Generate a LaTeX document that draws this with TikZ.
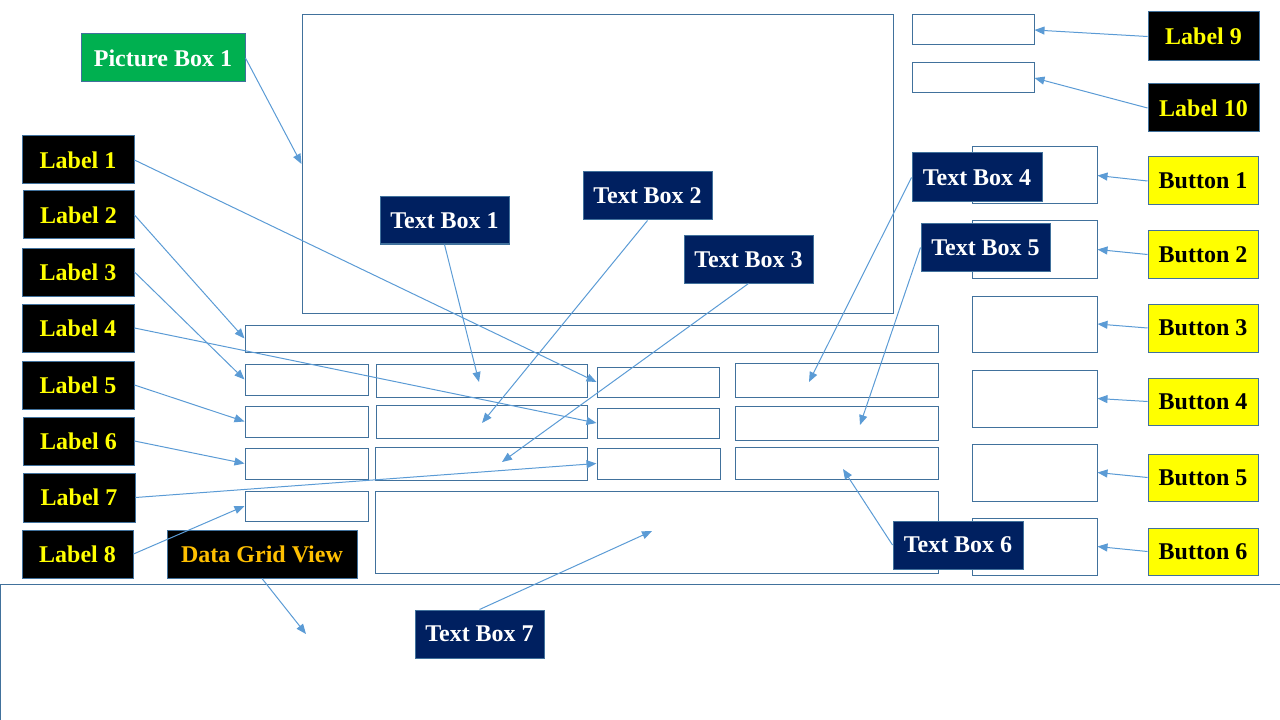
\documentclass[tikz,border=0pt]{standalone}
\usepackage{fontspec}
\setmainfont{Liberation Serif}
\usepackage{xcolor}
\usepackage{tikz}
\usetikzlibrary{arrows.meta, positioning}
\definecolor{frameblue}{HTML}{41719C}
\definecolor{arrowblue}{HTML}{5B9BD5}
\definecolor{tbnavy}{HTML}{002060}
\definecolor{picgreen}{HTML}{00B050}
\definecolor{lblyellow}{HTML}{FFFF00}
\definecolor{gridorange}{HTML}{FFC000}

\begin{document}
\begin{tikzpicture}[
    x=0.75pt, y=-0.75pt,
    every node/.style={font=\bfseries\fontsize{18}{20}\selectfont},
    wh/.style 2 args={
        minimum width=#1*0.75pt,
        minimum height=#2*0.75pt
    },
    uibox/.style={
        rectangle,
        draw=frameblue,
        line width=0.75pt,
        inner sep=0pt
    },
    tag/.style={
        rectangle,
        draw=frameblue,
        line width=0.75pt,
        inner sep=0pt,
        text centered,
        wh={111}{48}
    },
    lbl/.style={tag, fill=black, text=lblyellow},
    btn/.style={tag, fill=lblyellow, text=black, wh={110}{48}},
    tbox/.style={tag, fill=tbnavy, text=white, wh={129}{47}},
    pointer/.style={
        -{Triangle[length=7.5pt, width=6pt]},
        line width=0.75pt,
        draw=arrowblue
    }
]
\useasboundingbox (0,0) rectangle (1280,720);

% Form controls
\node[uibox, wh={591}{298}] (picture) at (597.5,164) {};
\node[uibox, wh={122}{30}] (top1) at (973,30) {};
\node[uibox, wh={122}{30}] (top2) at (973,78) {};

\node[uibox, wh={125}{57}] (bb1) at (1034.5,175.5) {};
\node[uibox, wh={125}{57}] (bb2) at (1034.5,249.5) {};
\node[uibox, wh={125}{56}] (bb3) at (1034.5,324) {};
\node[uibox, wh={125}{57}] (bb4) at (1034.5,398.5) {};
\node[uibox, wh={125}{57}] (bb5) at (1034.5,472.5) {};
\node[uibox, wh={125}{57}] (bb6) at (1034.5,546.5) {};

\node[uibox, wh={693}{27}] (wide) at (591.5,338.5) {};

\node[uibox, wh={123}{31}] (r1c1) at (306.5,379.5) {};
\node[uibox, wh={211}{33}] (r1c2) at (481.5,380.5) {};
\node[uibox, wh={122}{30}] (r1c3) at (658,382) {};
\node[uibox, wh={203}{34}] (r1c4) at (836.5,380) {};

\node[uibox, wh={123}{31}] (r2c1) at (306.5,421.5) {};
\node[uibox, wh={211}{33}] (r2c2) at (481.5,421.5) {};
\node[uibox, wh={122}{30}] (r2c3) at (658,423) {};
\node[uibox, wh={203}{34}] (r2c4) at (836.5,423) {};

\node[uibox, wh={123}{31}] (r3c1) at (306.5,463.5) {};
\node[uibox, wh={212}{33}] (r3c2) at (481,463.5) {};
\node[uibox, wh={123}{31}] (r3c3) at (658.5,463.5) {};
\node[uibox, wh={203}{32}] (r3c4) at (836.5,463) {};

\node[uibox, wh={123}{30}] (r4c1) at (306.5,506) {};
\node[uibox, wh={563}{82}] (big) at (656.5,532) {};

% Data grid view, running off the slide
\node[uibox, wh={1282}{140}] (grid) at (641.5,654) {};

% Arrow tips inside the boxes
\coordinate (tip1) at (479,382);
\coordinate (tip2) at (482,423);
\coordinate (tip3) at (502,462);
\coordinate (tip4) at (809,382);
\coordinate (tip5) at (860,425);
\coordinate (tip6) at (843,469);
\coordinate (tip7) at (652,531);
\coordinate (tipgrid) at (306,634);

% Callouts - left side
\node[lbl, wh={112}{48}] (label1) at (78,160) {Label 1};
\node[lbl] (label2) at (78.5,215) {Label 2};
\node[lbl, wh={112}{48}] (label3) at (78,272) {Label 3};
\node[lbl, wh={112}{48}] (label4) at (78,328) {Label 4};
\node[lbl, wh={112}{48}] (label5) at (78,385) {Label 5};
\node[lbl] (label6) at (78.5,441) {Label 6};
\node[lbl, wh={112}{49}] (label7) at (79,497.5) {Label 7};
\node[lbl] (label8) at (77.5,554) {Label 8};
\node[tag, fill=picgreen, text=white, wh={164}{48}] (picbox) at (163,58) {Picture Box 1};
\node[lbl, text=gridorange, wh={190}{48}] (dgv) at (262,554) {Data Grid View};

% Callouts - right side
\node[lbl, wh={111}{49}] (label9) at (1203.5,36.5) {Label 9};
\node[lbl] (label10) at (1203.5,108) {Label 10};
\node[btn] (button1) at (1203,181) {Button 1};
\node[btn, wh={110}{47}] (button2) at (1203,254.5) {Button 2};
\node[btn] (button3) at (1203,328) {Button 3};
\node[btn, wh={110}{47}] (button4) at (1203,401.5) {Button 4};
\node[btn, wh={110}{47}] (button5) at (1203,477.5) {Button 5};
\node[btn, wh={110}{47}] (button6) at (1203,551.5) {Button 6};

% Text boxes
\node[tbox] (text1) at (444.5,220.5) {Text Box 1};
\node[tbox, wh={129}{48}] (text2) at (647.5,196) {Text Box 2};
\node[tbox] (text3) at (748.5,259.5) {Text Box 3};
\node[tbox, wh={130}{49}] (text4) at (977,177.5) {Text Box 4};
\node[tbox] (text5) at (985.5,247.5) {Text Box 5};
\node[tbox, wh={130}{48}] (text6) at (958,545) {Text Box 6};
\node[tbox, wh={129}{48}] (text7) at (479.5,634) {Text Box 7};

% Arrows from the left labels
\draw[pointer] (picbox.east) -- (picture.west);
\draw[pointer] (label1.east) -- (r1c3.west);
\draw[pointer] (label2.east) -- (wide.west);
\draw[pointer] (label3.east) -- (r1c1.west);
\draw[pointer] (label4.east) -- (r2c3.west);
\draw[pointer] (label5.east) -- (r2c1.west);
\draw[pointer] (label6.east) -- (r3c1.west);
\draw[pointer] (label7.east) -- (r3c3.west);
\draw[pointer] (label8.east) -- (r4c1.west);
\draw[pointer] (dgv.south) -- (tipgrid);

% Arrows from the right labels and buttons
\draw[pointer] (label9.west) -- (top1.east);
\draw[pointer] (label10.west) -- (top2.east);
\draw[pointer] (button1.west) -- (bb1.east);
\draw[pointer] (button2.west) -- (bb2.east);
\draw[pointer] (button3.west) -- (bb3.east);
\draw[pointer] (button4.west) -- (bb4.east);
\draw[pointer] (button5.west) -- (bb5.east);
\draw[pointer] (button6.west) -- (bb6.east);

% Arrows from the text boxes
\draw[pointer] (text1.south) -- (tip1);
\draw[pointer] (text2.south) -- (tip2);
\draw[pointer] (text3.south) -- (tip3);
\draw[pointer] (text4.west) -- (tip4);
\draw[pointer] (text5.west) -- (tip5);
\draw[pointer] (text6.west) -- (tip6);
\draw[pointer] (text7.north) -- (tip7);

\end{tikzpicture}
\end{document}
